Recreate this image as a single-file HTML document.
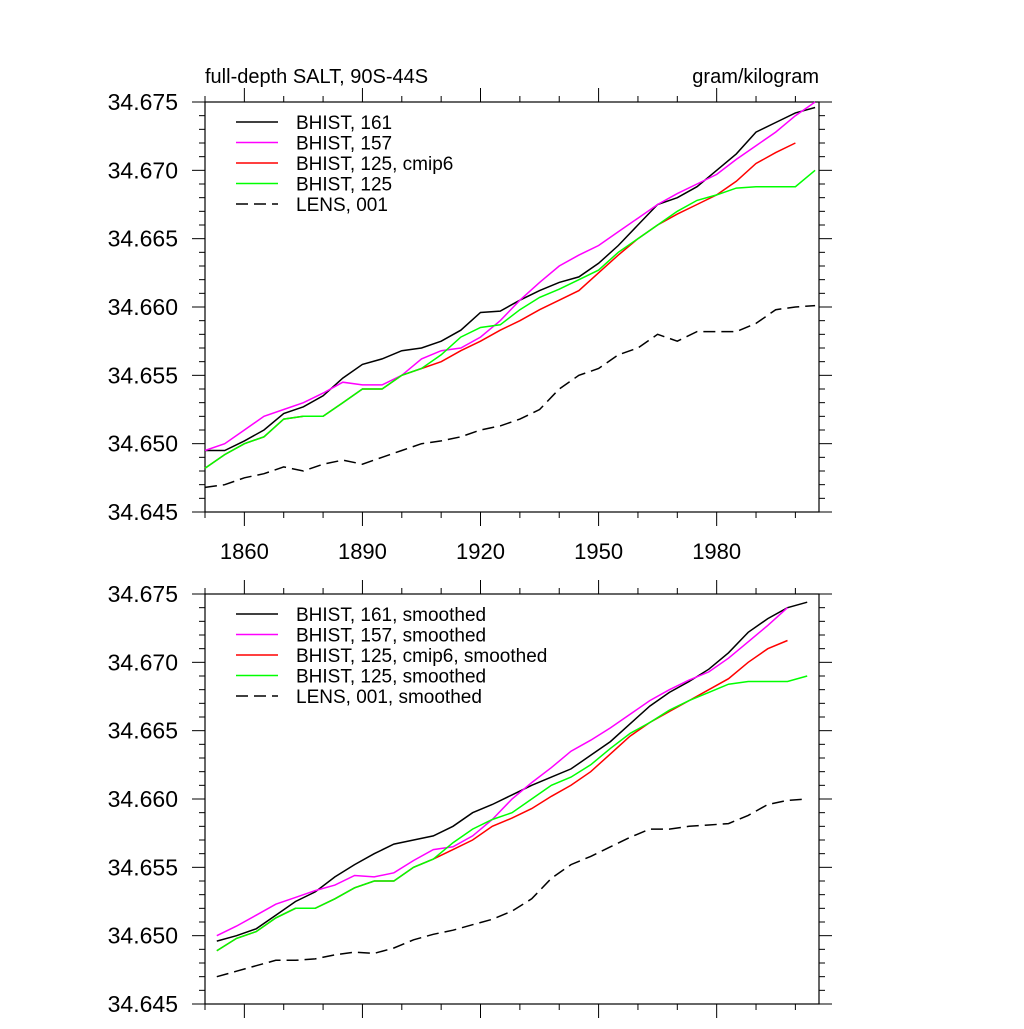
<!DOCTYPE html>
<html><head><meta charset="utf-8"><style>
body{margin:0;background:#fff}
svg text{font-family:"Liberation Sans",Arial,sans-serif}
</style></head><body>
<svg id="c" width="1024" height="1024" xmlns="http://www.w3.org/2000/svg"></svg>
<script>
const yearsTop=[1850,1855,1860,1865,1870,1875,1880,1885,1890,1895,1900,1905,1910,1915,1920,1925,1930,1935,1940,1945,1950,1955,1960,1965,1970,1975,1980,1985,1990,1995,2000,2005];
const b161=[34.6495,34.6495,34.6502,34.6510,34.6522,34.6527,34.6535,34.6548,34.6558,34.6562,34.6568,34.6570,34.6575,34.6583,34.6596,34.6597,34.6605,34.6612,34.6618,34.6622,34.6632,34.6645,34.6660,34.6675,34.6680,34.6688,34.6700,34.6712,34.6728,34.6735,34.6742,34.6746];
const b157=[34.6495,34.6500,34.6510,34.6520,34.6525,34.6530,34.6537,34.6545,34.6543,34.6543,34.6550,34.6562,34.6568,34.6570,34.6578,34.6590,34.6605,34.6618,34.6630,34.6638,34.6645,34.6655,34.6665,34.6675,34.6683,34.6690,34.6697,34.6708,34.6718,34.6728,34.6740,34.6750];
const b125c=[34.6482,34.6492,34.6500,34.6505,34.6518,34.6520,34.6520,34.6530,34.6540,34.6540,34.6550,34.6555,34.6560,34.6568,34.6575,34.6583,34.6590,34.6598,34.6605,34.6612,34.6625,34.6638,34.6650,34.6660,34.6668,34.6675,34.6682,34.6692,34.6705,34.6713,34.6720];
const b125=[34.6482,34.6492,34.6500,34.6505,34.6518,34.6520,34.6520,34.6530,34.6540,34.6540,34.6550,34.6555,34.6565,34.6578,34.6585,34.6587,34.6598,34.6607,34.6613,34.6620,34.6627,34.6640,34.6650,34.6660,34.6670,34.6678,34.6682,34.6687,34.6688,34.6688,34.6688,34.6700];
const lens=[34.6468,34.6470,34.6475,34.6478,34.6483,34.6480,34.6485,34.6488,34.6485,34.6490,34.6495,34.6500,34.6502,34.6505,34.6510,34.6513,34.6518,34.6525,34.6540,34.6550,34.6555,34.6565,34.6570,34.6580,34.6575,34.6582,34.6582,34.6582,34.6588,34.6598,34.6600,34.6601];
const yearsBot=[1853,1858,1863,1868,1873,1878,1883,1888,1893,1898,1903,1908,1913,1918,1923,1928,1933,1938,1943,1948,1953,1958,1963,1968,1973,1978,1983,1988,1993,1998,2003];
const s161=[34.6496,34.6500,34.6505,34.6515,34.6525,34.6532,34.6543,34.6552,34.6560,34.6567,34.6570,34.6573,34.6580,34.6590,34.6596,34.6603,34.6610,34.6616,34.6622,34.6632,34.6642,34.6655,34.6668,34.6678,34.6686,34.6695,34.6707,34.6722,34.6732,34.6740,34.6744];
const s157=[34.6500,34.6507,34.6515,34.6523,34.6528,34.6533,34.6537,34.6544,34.6543,34.6546,34.6555,34.6563,34.6565,34.6573,34.6585,34.6600,34.6612,34.6623,34.6635,34.6643,34.6652,34.6662,34.6672,34.6680,34.6687,34.6693,34.6703,34.6715,34.6727,34.6740];
const s125c=[34.6489,34.6498,34.6503,34.6513,34.6520,34.6520,34.6527,34.6535,34.6540,34.6540,34.6550,34.6556,34.6563,34.6570,34.6580,34.6586,34.6593,34.6602,34.6610,34.6620,34.6633,34.6646,34.6656,34.6664,34.6672,34.6680,34.6688,34.6700,34.6710,34.6716];
const s125=[34.6489,34.6498,34.6503,34.6513,34.6520,34.6520,34.6527,34.6535,34.6540,34.6540,34.6550,34.6556,34.6568,34.6578,34.6585,34.6590,34.6600,34.6610,34.6616,34.6625,34.6637,34.6648,34.6656,34.6665,34.6672,34.6678,34.6684,34.6686,34.6686,34.6686,34.6690];
const slens=[34.6470,34.6474,34.6478,34.6482,34.6482,34.6483,34.6486,34.6488,34.6487,34.6491,34.6497,34.6501,34.6504,34.6508,34.6512,34.6518,34.6527,34.6542,34.6552,34.6558,34.6565,34.6572,34.6578,34.6578,34.6580,34.6581,34.6582,34.6588,34.6596,34.6599,34.6600];
const yTicks=["34.645","34.650","34.655","34.660","34.665","34.670","34.675"];
const xTicks=["1860","1890","1920","1950","1980"];

const svg=document.getElementById('c');const NS='http://www.w3.org/2000/svg';
function el(t,a,p){const e=document.createElementNS(NS,t);for(const k in a)e.setAttribute(k,a[k]);(p||svg).appendChild(e);return e;}
const L=205,R=819,X0=1850,X1=2006,Y0=34.645,Y1=34.675;
function panel(top,bot,name,showX,series,legend){
  const g=el('g',{});
  const sx=v=>L+(v-X0)/(X1-X0)*(R-L), sy=v=>bot-(v-Y0)/(Y1-Y0)*(bot-top);
  el('rect',{x:L,y:top,width:R-L,height:bot-top,fill:'none',stroke:'#000','stroke-width':1.2},g);
  for(let v=0;v<=30;v++){const y=sy(Y0+v*0.001);const maj=v%5==0;const len=maj?13:6;
    el('line',{x1:L-len,x2:L,y1:y,y2:y,stroke:'#000'},g);el('line',{x1:R,x2:R+len,y1:y,y2:y,stroke:'#000'},g);}
  yTicks.forEach(t=>{const tx=el('text',{x:178,y:sy(+t)+8,'text-anchor':'end','font-size':23},g);tx.textContent=t;});
  for(let yr=1850;yr<=2000;yr+=10){const x=sx(yr);const maj=(yr-1860)%30==0;const len=maj?14:6;
    el('line',{x1:x,x2:x,y1:bot,y2:bot+len,stroke:'#000'},g);el('line',{x1:x,x2:x,y1:top-len,y2:top,stroke:'#000'},g);}
  if(showX)xTicks.forEach(t=>{const tx=el('text',{x:sx(+t),y:bot+47,'text-anchor':'middle','font-size':22},g);tx.textContent=t;});
  series.forEach((s,i)=>{const d=s.v.map((v,j)=>(j?'L':'M')+sx(s.yrs[j]).toFixed(1)+','+sy(v).toFixed(1)).join('');
    const p=el('path',{d,fill:'none',stroke:s.c,'stroke-width':1.5},g);if(s.dash)p.setAttribute('stroke-dasharray','12,6');
    
    const ly=top+20+i*20.5;const ll=el('line',{x1:236,x2:278,y1:ly,y2:ly,stroke:s.c,'stroke-width':1.5},g);if(s.dash)ll.setAttribute('stroke-dasharray','12,6');
    const tx=el('text',{x:296,y:ly+7,'font-size':19},g);tx.textContent=legend[i];});
}
panel(102,512,'top-panel',true,[
 {yrs:yearsTop,v:b161,c:'#000',n:'line-bhist-161'},{yrs:yearsTop,v:b157,c:'#ff00ff',n:'line-bhist-157'},
 {yrs:yearsTop,v:b125c,c:'#ff0000',n:'line-bhist-125-cmip6'},{yrs:yearsTop,v:b125,c:'#00ff00',n:'line-bhist-125'},
 {yrs:yearsTop,v:lens,c:'#000',dash:1,n:'line-lens-001'}],
 ["BHIST, 161","BHIST, 157","BHIST, 125, cmip6","BHIST, 125","LENS, 001"]);
panel(594,1004,'bottom-panel',false,[
 {yrs:yearsBot,v:s161,c:'#000',n:'line-bhist-161-smoothed'},{yrs:yearsBot,v:s157,c:'#ff00ff',n:'line-bhist-157-smoothed'},
 {yrs:yearsBot,v:s125c,c:'#ff0000',n:'line-bhist-125-cmip6-smoothed'},{yrs:yearsBot,v:s125,c:'#00ff00',n:'line-bhist-125-smoothed'},
 {yrs:yearsBot,v:slens,c:'#000',dash:1,n:'line-lens-001-smoothed'}],
 ["BHIST, 161, smoothed","BHIST, 157, smoothed","BHIST, 125, cmip6, smoothed","BHIST, 125, smoothed","LENS, 001, smoothed"]);
let t=el('text',{x:205,y:83,'font-size':20});t.textContent='full-depth SALT, 90S-44S';
t=el('text',{x:819,y:83,'font-size':20,'text-anchor':'end'});t.textContent='gram/kilogram';
</script>
</body></html>
